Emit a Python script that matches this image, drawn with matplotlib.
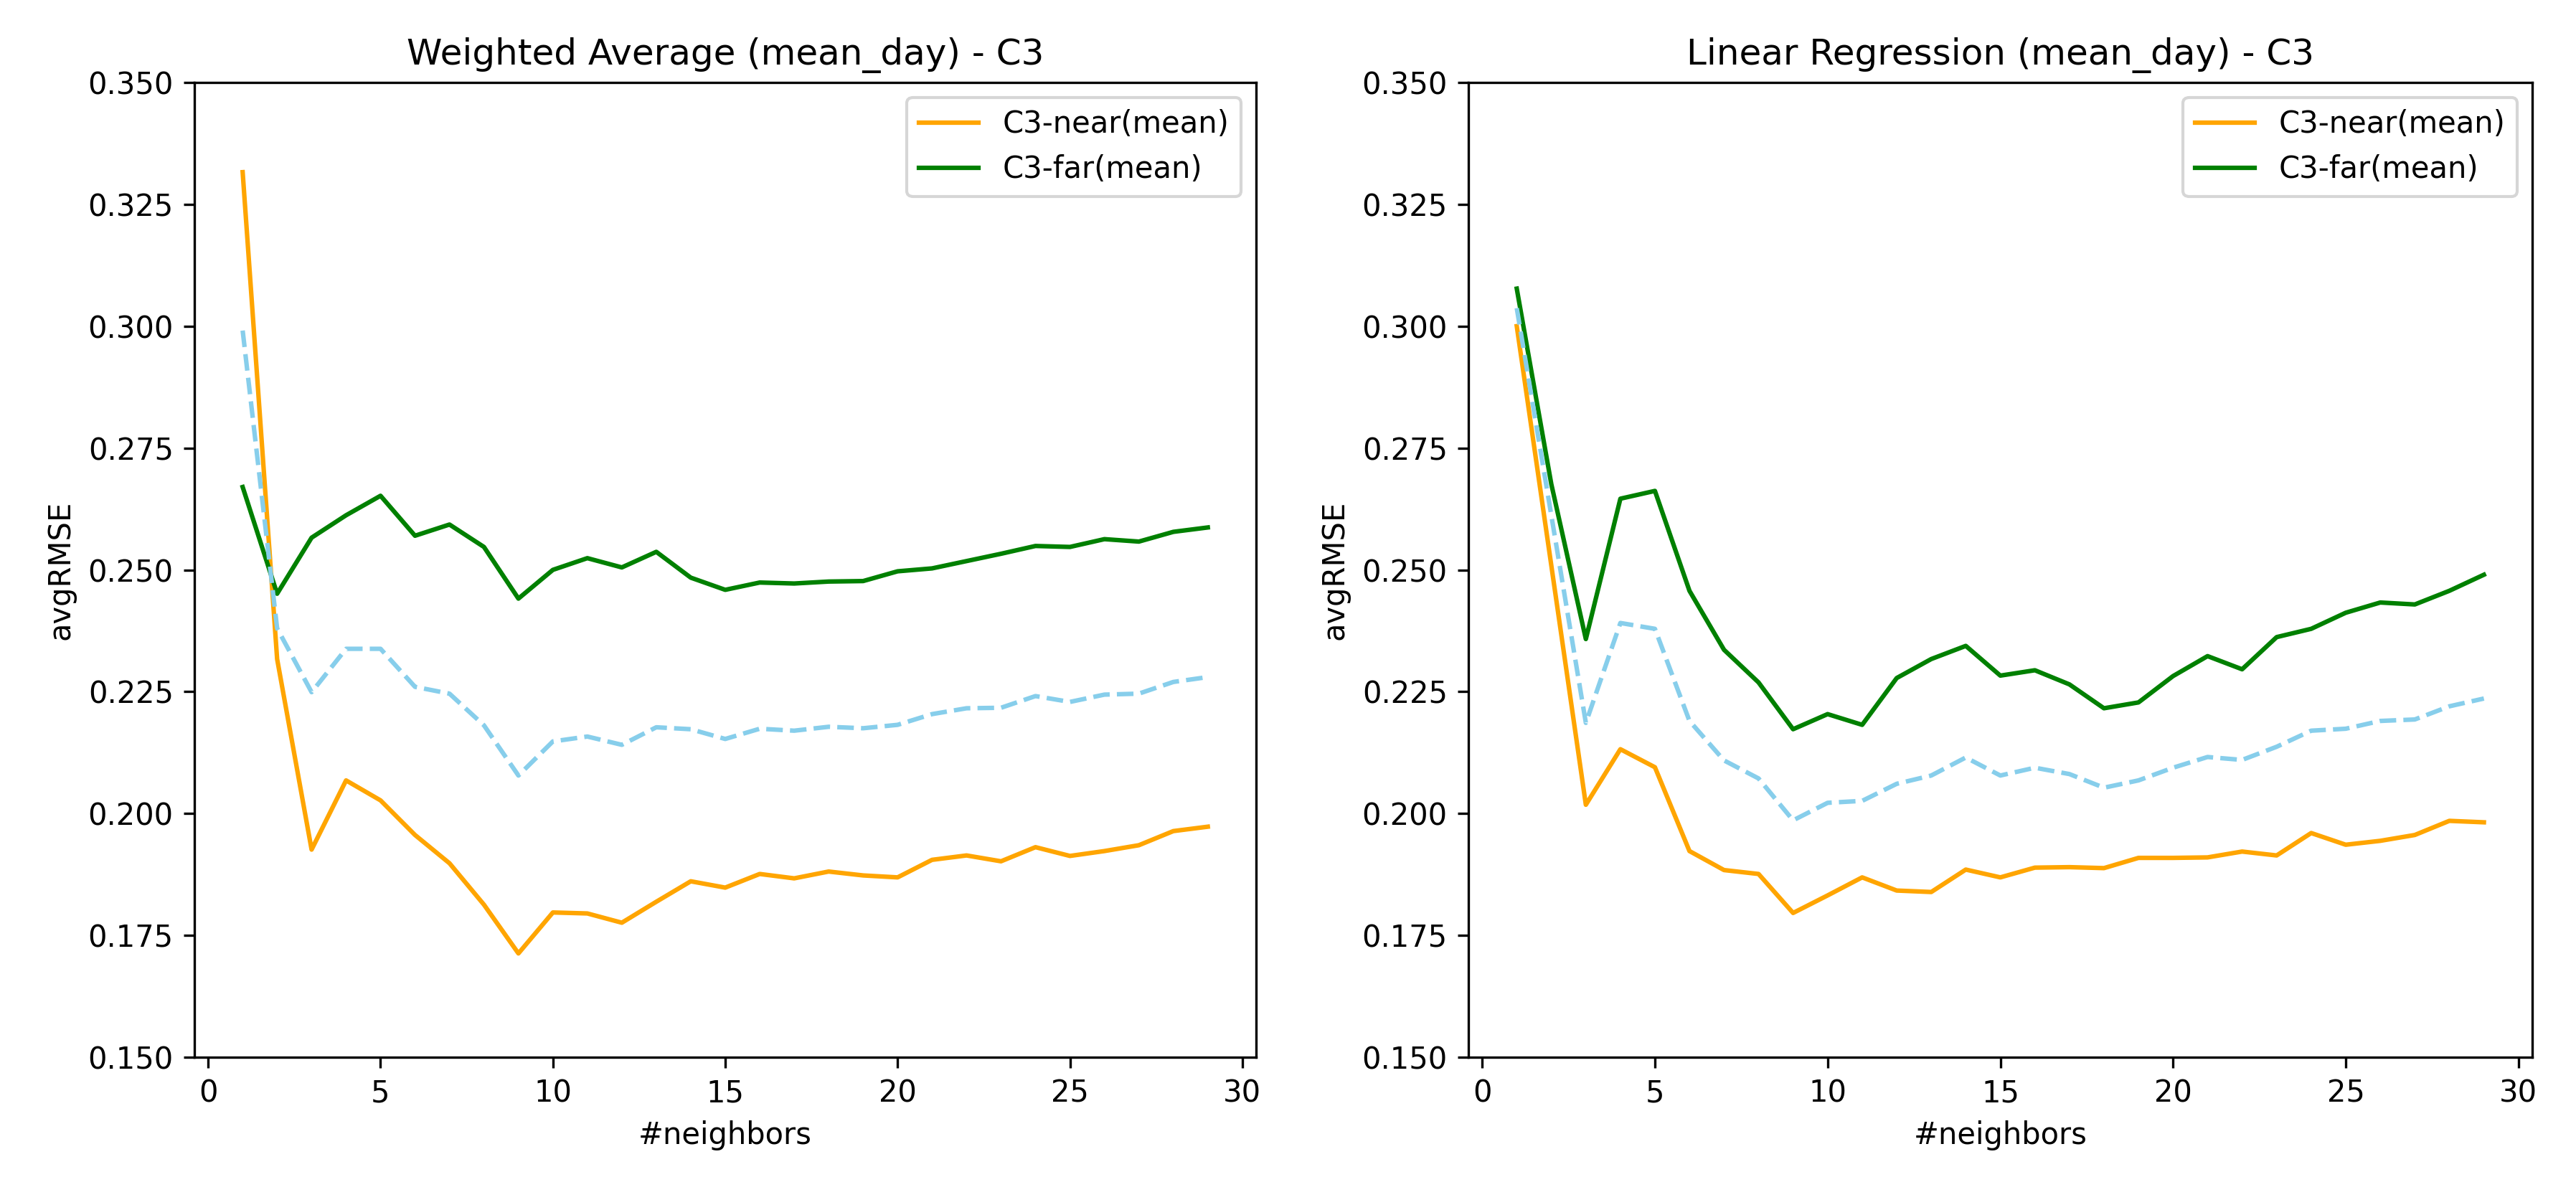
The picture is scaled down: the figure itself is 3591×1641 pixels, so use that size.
import matplotlib
matplotlib.use("Agg")
import matplotlib.pyplot as plt

neighbors = list(range(1, 30))

wa_near = [0.3316, 0.2317, 0.1926, 0.2068, 0.2027, 0.1956, 0.1898, 0.1813, 0.1713, 0.1797,
           0.1795, 0.1776, 0.1819, 0.1861, 0.1848, 0.1876, 0.1867, 0.1881, 0.1873, 0.1869,
           0.1905, 0.1914, 0.1902, 0.1931, 0.1913, 0.1923, 0.1935, 0.1964, 0.1973]
wa_far = [0.2670, 0.2451, 0.2566, 0.2612, 0.2652, 0.2570, 0.2593, 0.2547, 0.2441, 0.2500,
          0.2524, 0.2505, 0.2537, 0.2484, 0.2459, 0.2474, 0.2472, 0.2476, 0.2477, 0.2497,
          0.2503, 0.2518, 0.2533, 0.2549, 0.2547, 0.2563, 0.2558, 0.2578, 0.2587]
wa_avg = [0.2991, 0.2380, 0.2249, 0.2338, 0.2338, 0.2260, 0.2246, 0.2181, 0.2078, 0.2148,
          0.2158, 0.2141, 0.2177, 0.2173, 0.2153, 0.2174, 0.2170, 0.2178, 0.2175, 0.2182,
          0.2204, 0.2216, 0.2217, 0.2241, 0.2229, 0.2244, 0.2246, 0.2270, 0.2280]

lr_near = [0.3000, 0.2509, 0.2018, 0.2132, 0.2095, 0.1923, 0.1884, 0.1876, 0.1796, 0.1832,
           0.1869, 0.1842, 0.1839, 0.1885, 0.1869, 0.1889, 0.1890, 0.1888, 0.1909, 0.1909,
           0.1910, 0.1922, 0.1914, 0.1960, 0.1936, 0.1944, 0.1956, 0.1985, 0.1982]
lr_far = [0.3077, 0.2676, 0.2358, 0.2646, 0.2662, 0.2457, 0.2336, 0.2269, 0.2173, 0.2204,
          0.2182, 0.2278, 0.2317, 0.2344, 0.2283, 0.2294, 0.2265, 0.2216, 0.2228, 0.2282,
          0.2323, 0.2296, 0.2362, 0.2379, 0.2412, 0.2433, 0.2429, 0.2457, 0.2490]
lr_avg = [0.3037, 0.2612, 0.2186, 0.2391, 0.2379, 0.2190, 0.2109, 0.2072, 0.1986, 0.2022,
          0.2026, 0.2061, 0.2078, 0.2115, 0.2078, 0.2094, 0.2081, 0.2053, 0.2068, 0.2094,
          0.2116, 0.2110, 0.2137, 0.2170, 0.2174, 0.2190, 0.2193, 0.2220, 0.2236]

titles = ["Weighted Average (mean_day) - C3", "Linear Regression (mean_day) - C3"]
yticks = [0.150, 0.175, 0.200, 0.225, 0.250, 0.275, 0.300, 0.325, 0.350]

plt.rcParams['font.family'] = ['DejaVu Sans']
fig = plt.figure(figsize=(3591 / 300, 1641 / 300), dpi=300)
ax1 = fig.add_axes([271 / 3591, 167 / 1641, 1480 / 3591, 1359 / 1641])
ax2 = fig.add_axes([2047 / 3591, 167 / 1641, 1483 / 3591, 1359 / 1641])

for ax, near, far, avg, title in [(ax1, wa_near, wa_far, wa_avg, titles[0]),
                                   (ax2, lr_near, lr_far, lr_avg, titles[1])]:
    ax.plot(neighbors, near, color='orange', lw=1.5, label='C3-near(mean)')
    ax.plot(neighbors, far, color='green', lw=1.5, label='C3-far(mean)')
    ax.plot(neighbors, avg, color='skyblue', lw=1.5, ls='--')
    ax.set_ylim(0.15, 0.35)
    ax.set_yticks(yticks)
    ax.set_yticklabels([f"{t:.3f}" for t in yticks])
    ax.set_xticks([0, 5, 10, 15, 20, 25, 30])
    ax.set_title(title, fontsize=12)
    ax.set_xlabel('#neighbors')
    ax.set_ylabel('avgRMSE')
    ax.legend(loc='upper right')

fig.savefig('out.png', dpi=300)
